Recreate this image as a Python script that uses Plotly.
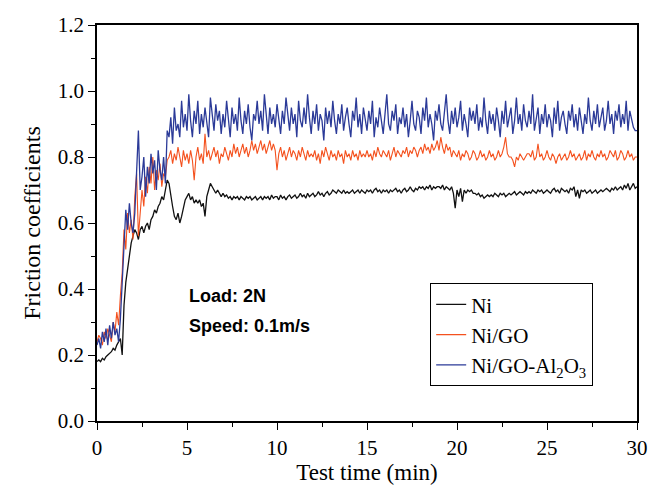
import numpy as np
import plotly.graph_objects as go

# time grid, 0.1 min sampling, 0..30 min
time_min = np.round(np.arange(301) * 0.1, 1)

ni = [
    0.18, 0.185, 0.18, 0.19, 0.185, 0.195, 0.20, 0.205, 0.21, 0.22, 0.215, 0.23, 0.24, 0.25,
    0.20, 0.35, 0.42, 0.46, 0.50, 0.54,
    0.56, 0.58, 0.57, 0.55, 0.58, 0.59, 0.57, 0.59, 0.60, 0.58,
    0.61, 0.62, 0.64, 0.63, 0.65, 0.66, 0.68, 0.67, 0.70, 0.73,
    0.72, 0.68, 0.65, 0.62, 0.61, 0.63, 0.60, 0.62, 0.65, 0.67,
    0.68, 0.69, 0.67, 0.68, 0.66, 0.67, 0.66, 0.67, 0.65, 0.66,
    0.62, 0.68, 0.70, 0.72, 0.71, 0.70, 0.69, 0.70, 0.69, 0.68,
    0.69, 0.68, 0.685, 0.675, 0.68, 0.67, 0.68, 0.675, 0.68, 0.67,
    0.68, 0.675, 0.67, 0.68, 0.675, 0.68, 0.67, 0.675, 0.68, 0.67,
    0.675, 0.68, 0.67, 0.68, 0.675, 0.68, 0.67, 0.685, 0.675, 0.68,
    0.68, 0.67, 0.685, 0.675, 0.68, 0.67, 0.68, 0.685, 0.675, 0.68,
    0.685, 0.675, 0.68, 0.69, 0.68, 0.685, 0.675, 0.69, 0.68, 0.685,
    0.69, 0.68, 0.685, 0.695, 0.685, 0.69, 0.68, 0.69, 0.695, 0.685,
    0.69, 0.70, 0.695, 0.69, 0.70, 0.695, 0.69, 0.70, 0.69, 0.695,
    0.69, 0.695, 0.70, 0.69, 0.695, 0.70, 0.69, 0.70, 0.695, 0.69,
    0.70, 0.695, 0.70, 0.69, 0.70, 0.705, 0.695, 0.70, 0.69, 0.70,
    0.695, 0.70, 0.69, 0.70, 0.695, 0.70, 0.705, 0.695, 0.70, 0.69,
    0.70, 0.705, 0.695, 0.70, 0.71, 0.70, 0.695, 0.705, 0.70, 0.71,
    0.705, 0.71, 0.70, 0.71, 0.705, 0.715, 0.70, 0.71, 0.705, 0.71,
    0.71, 0.705, 0.715, 0.70, 0.71, 0.705, 0.70, 0.71, 0.69, 0.645,
    0.70, 0.68, 0.705, 0.665, 0.70, 0.69, 0.70, 0.695, 0.70, 0.69,
    0.69, 0.685, 0.69, 0.68, 0.685, 0.675, 0.68, 0.685, 0.68, 0.685,
    0.68, 0.69, 0.685, 0.68, 0.69, 0.685, 0.69, 0.68, 0.685, 0.69,
    0.685, 0.69, 0.695, 0.685, 0.69, 0.695, 0.69, 0.685, 0.695, 0.69,
    0.695, 0.69, 0.70, 0.695, 0.69, 0.70, 0.695, 0.70, 0.69, 0.695,
    0.70, 0.695, 0.69, 0.70, 0.705, 0.695, 0.70, 0.69, 0.705, 0.70,
    0.695, 0.70, 0.69, 0.705, 0.70, 0.71, 0.68, 0.70, 0.675, 0.70,
    0.695, 0.70, 0.69, 0.695, 0.70, 0.69, 0.695, 0.70, 0.69, 0.695,
    0.70, 0.695, 0.70, 0.705, 0.70, 0.695, 0.705, 0.70, 0.71, 0.70,
    0.705, 0.71, 0.70, 0.715, 0.705, 0.72, 0.70, 0.71, 0.72, 0.705,
    0.71,
]

ni_go = [
    0.24, 0.26, 0.25, 0.23, 0.27, 0.25, 0.28, 0.26, 0.24, 0.30, 0.27, 0.33, 0.29, 0.38,
    0.45, 0.58, 0.52, 0.63, 0.57, 0.61,
    0.55, 0.68, 0.75, 0.56, 0.62, 0.70, 0.65, 0.74, 0.69, 0.77,
    0.72, 0.80, 0.70, 0.76, 0.73, 0.78, 0.71, 0.75, 0.74, 0.79,
    0.80, 0.82, 0.78, 0.81, 0.79, 0.83, 0.80, 0.77, 0.82, 0.79,
    0.81, 0.78, 0.82, 0.79, 0.73, 0.80, 0.83, 0.79, 0.81, 0.78,
    0.87, 0.80, 0.82, 0.79, 0.81, 0.83, 0.80, 0.82, 0.78, 0.81,
    0.80, 0.83, 0.81, 0.79, 0.82, 0.80, 0.84, 0.81, 0.83, 0.80,
    0.82, 0.84, 0.81, 0.83, 0.80, 0.82, 0.85, 0.82, 0.84, 0.81,
    0.83, 0.85, 0.82, 0.84, 0.81, 0.83, 0.85, 0.82, 0.84, 0.82,
    0.76, 0.81, 0.83, 0.80, 0.82, 0.79, 0.81, 0.83, 0.80, 0.82,
    0.81, 0.79, 0.82, 0.80, 0.83, 0.81, 0.79, 0.82, 0.80, 0.81,
    0.80, 0.82, 0.79, 0.81, 0.78, 0.82, 0.80, 0.83, 0.81, 0.79,
    0.82, 0.80, 0.81, 0.79, 0.82, 0.80, 0.81, 0.78, 0.82, 0.80,
    0.81, 0.79, 0.82, 0.80, 0.81, 0.79, 0.82, 0.80, 0.81, 0.80,
    0.82, 0.80, 0.81, 0.79, 0.82, 0.80, 0.83, 0.81, 0.80, 0.82,
    0.81, 0.80, 0.82, 0.79, 0.81, 0.83, 0.80, 0.82, 0.81, 0.80,
    0.82, 0.81, 0.83, 0.80, 0.82, 0.81, 0.83, 0.82, 0.80, 0.82,
    0.83, 0.81, 0.84, 0.82, 0.83, 0.81, 0.84, 0.82, 0.83, 0.85,
    0.82, 0.86, 0.83, 0.81, 0.84, 0.82, 0.83, 0.80, 0.82, 0.81,
    0.80, 0.82, 0.79, 0.81, 0.80, 0.82, 0.81, 0.79, 0.80, 0.82,
    0.81, 0.79, 0.80, 0.82, 0.80, 0.81, 0.79, 0.80, 0.82, 0.80,
    0.81, 0.79, 0.80, 0.82, 0.80, 0.81, 0.83, 0.86, 0.81, 0.80,
    0.80, 0.79, 0.77, 0.80, 0.79, 0.81, 0.80, 0.79, 0.80, 0.81,
    0.81, 0.80, 0.82, 0.79, 0.80, 0.84, 0.80, 0.81, 0.79, 0.80,
    0.82, 0.80, 0.79, 0.81, 0.80, 0.78, 0.80, 0.81, 0.79, 0.80,
    0.81, 0.79, 0.80, 0.82, 0.80, 0.81, 0.79, 0.80, 0.81, 0.79,
    0.80, 0.82, 0.79, 0.81, 0.80, 0.82, 0.80, 0.79, 0.81, 0.80,
    0.82, 0.80, 0.81, 0.79, 0.80, 0.82, 0.81, 0.80, 0.82, 0.79,
    0.80, 0.82, 0.81, 0.79, 0.80, 0.82, 0.80, 0.81, 0.79, 0.80,
    0.80,
]

ni_go_al2o3 = [
    0.23, 0.25, 0.22, 0.27, 0.24, 0.28, 0.23, 0.29, 0.25, 0.30, 0.26, 0.28, 0.24, 0.31,
    0.42, 0.55, 0.64, 0.58, 0.66, 0.60,
    0.57, 0.63, 0.78, 0.88, 0.70, 0.74, 0.80, 0.68, 0.77, 0.72,
    0.81, 0.75, 0.79, 0.70, 0.82, 0.76, 0.73, 0.80, 0.72, 0.88,
    0.86, 0.92, 0.84, 0.95, 0.88, 0.90, 0.86, 0.97, 0.89, 0.93,
    0.88, 0.99, 0.91, 0.86, 0.94, 0.90, 0.97, 0.87, 0.93, 0.89,
    0.95, 0.90, 0.86, 0.98, 0.92, 0.88, 0.96, 0.91, 0.94, 0.87,
    0.93, 0.89, 0.97, 0.91, 0.86, 0.95, 0.90, 0.93, 0.88, 0.98,
    0.91, 0.87, 0.94, 0.90, 0.96, 0.89, 0.85, 0.93, 0.91, 0.97,
    0.90, 0.94, 0.88, 0.99, 0.92, 0.87, 0.95, 0.90, 0.93, 0.89,
    0.96, 0.91, 0.87, 0.94, 0.90, 0.98, 0.92, 0.88, 0.95, 0.90,
    0.93, 0.86, 0.97, 0.91, 0.89, 0.95, 0.90, 0.99, 0.92, 0.87,
    0.94, 0.90, 0.96, 0.88, 0.93, 0.91, 0.85, 0.95, 0.90, 0.94,
    0.89, 0.97, 0.91, 0.87, 0.93, 0.90, 0.96, 0.88, 0.92, 0.95,
    0.90, 0.86, 0.94, 0.91, 0.98, 0.89, 0.93, 0.87, 0.95, 0.91,
    0.88, 0.94, 0.90, 0.97, 0.86, 0.92, 0.89, 0.95, 0.91, 0.87,
    0.93, 0.99, 0.90, 0.88, 0.94, 0.91, 0.96, 0.87, 0.92, 0.90,
    0.95, 0.89, 0.93, 0.86, 0.91, 0.97, 0.90, 0.88, 0.94, 0.92,
    0.87, 0.95, 0.91, 0.98, 0.89, 0.93, 0.90, 0.85, 0.94, 0.91,
    0.96, 0.90, 0.88, 0.93, 0.99, 0.91, 0.87, 0.94, 0.90, 0.95,
    0.89, 0.92, 0.97, 0.88, 0.93, 0.90, 0.86, 0.95, 0.91, 0.94,
    0.90, 0.96, 0.88, 0.92, 0.89, 0.98, 0.91, 0.87, 0.94, 0.90,
    0.93, 0.88, 0.95, 0.91, 0.86, 0.94, 0.90, 0.97, 0.89, 0.92,
    0.95, 0.87, 0.91, 0.98, 0.90, 0.93, 0.88, 0.96, 0.91, 0.89,
    0.94, 0.90, 0.99, 0.88, 0.92, 0.95, 0.87, 0.93, 0.90, 0.96,
    0.89, 0.93, 0.91, 0.86, 0.95, 0.90, 0.97, 0.88, 0.92, 0.94,
    0.90, 0.87, 0.94, 0.91, 0.96, 0.89, 0.93, 0.88, 0.95, 0.91,
    0.87, 0.93, 0.90, 0.98, 0.91, 0.88, 0.94, 0.90, 0.96, 0.89,
    0.92, 0.95, 0.88, 0.91, 0.97, 0.90, 0.93, 0.87, 0.94, 0.91,
    0.96, 0.89, 0.93, 0.90, 0.97, 0.88, 0.94, 0.91, 0.89, 0.88,
    0.88,
]

series_names = ["Ni", "Ni/GO", "Ni/GO-Al<sub>2</sub>O<sub>3</sub>"]
x_ticks = [0, 5, 10, 15, 20, 25, 30]
y_ticks = [0.0, 0.2, 0.4, 0.6, 0.8, 1.0, 1.2]
y_tick_text = ["0.0", "0.2", "0.4", "0.6", "0.8", "1.0", "1.2"]

serif = "Liberation Serif"

fig = go.Figure()
fig.add_trace(go.Scatter(x=time_min, y=ni, mode="lines", name=series_names[0],
                         line=dict(color="#111111", width=1.3)))
fig.add_trace(go.Scatter(x=time_min, y=ni_go, mode="lines", name=series_names[1],
                         line=dict(color="#F4511E", width=1.1)))
fig.add_trace(go.Scatter(x=time_min, y=ni_go_al2o3, mode="lines", name=series_names[2],
                         line=dict(color="#2B3A98", width=1.3)))

axis_common = dict(showline=True, linecolor="black", linewidth=1.5, mirror=True,
                   ticks="outside", ticklen=7, tickwidth=1.2, tickcolor="black",
                   showgrid=False, zeroline=False,
                   tickfont=dict(family=serif, size=21, color="black"))

fig.update_xaxes(range=[0, 30], tickvals=x_ticks,
                 minor=dict(ticks="outside", ticklen=4, tickcolor="black", dtick=2.5, tick0=0),
                 title=dict(text="Test time (min)", font=dict(family=serif, size=23, color="black"),
                            standoff=2),
                 **axis_common)
fig.update_yaxes(range=[0, 1.2], tickvals=y_ticks, ticktext=y_tick_text,
                 minor=dict(ticks="outside", ticklen=4, tickcolor="black", dtick=0.1, tick0=0),
                 title=dict(text="Friction coefficients", font=dict(family=serif, size=24, color="black"),
                            standoff=10),
                 **axis_common)

fig.add_annotation(x=5.0, y=0.378, xref="x", yref="y", text="<b>Load: 2N</b>",
                   showarrow=False, xanchor="left", yanchor="middle",
                   font=dict(family="Liberation Sans", size=18, color="black"))
fig.add_annotation(x=5.0, y=0.287, xref="x", yref="y", text="<b>Speed: 0.1m/s</b>",
                   showarrow=False, xanchor="left", yanchor="middle",
                   font=dict(family="Liberation Sans", size=18, color="black"))

fig.update_layout(
    width=667, height=490,
    margin=dict(l=97, r=30, t=25, b=69),
    plot_bgcolor="white", paper_bgcolor="white",
    showlegend=True,
    legend=dict(x=0.617, y=0.348, xanchor="left", yanchor="top",
                bordercolor="black", borderwidth=1, bgcolor="white",
                font=dict(family=serif, size=21, color="black"),
                tracegroupgap=0, itemwidth=30),
)

fig.write_html("out.html")
